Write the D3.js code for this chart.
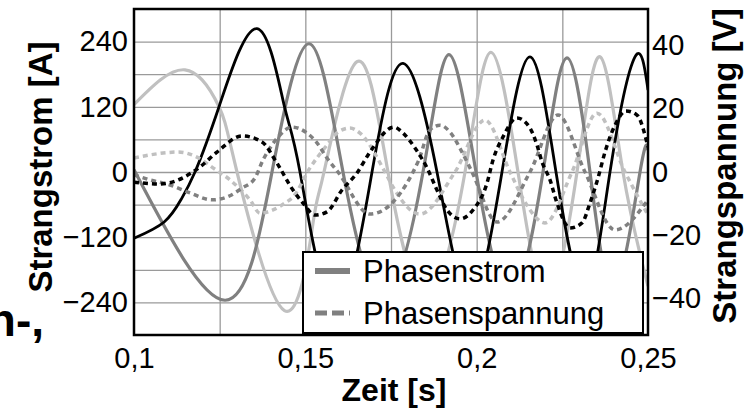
<!DOCTYPE html>
<html>
<head>
<meta charset="utf-8">
<script src="https://cdn.jsdelivr.net/npm/d3@7"></script>
<style>
  body { margin: 0; background: #fff; }
  svg { display: block; font-family: "Liberation Sans", Arial, sans-serif; }
</style>
</head>
<body>
<svg id="chart"></svg>
<script>
// values: [time s, value]
const timeTicks = [0.1, 0.15, 0.2, 0.25];
const timeGrid = [0.125, 0.15, 0.175, 0.2, 0.225];
const currentTicks = [-240, -120, 0, 120, 240];
const currentGrid = [-240, -180, -120, -60, 0, 60, 120, 180, 240];
const voltageTicks = [-40, -20, 0, 20, 40];

// Strangstrom [A]
const currentBlack = [[0.1, -122], [0.1088, -92], [0.1138, -50], [0.1178, 0], [0.12481, 120], [0.13589, 264],
  [0.14377, 124], [0.14844, 0], [0.15866, -250], [0.16946, 0], [0.1785, 200], [0.18842, 0], [0.19805, -230],
  [0.20739, 0], [0.21556, 212], [0.22315, 0], [0.23161, -220], [0.23891, 0], [0.2462, 212], [0.25, 151]];
const currentGray = [[0.1, 4], [0.12656, -236], [0.14027, 0], [0.15107, 236], [0.16099, 0], [0.17267, -230],
  [0.18434, 0], [0.19193, 216], [0.19981, 0], [0.20973, -225], [0.21936, 0], [0.22636, 210], [0.23307, 0],
  [0.24008, -215], [0.24767, 0], [0.25, 40]];
const currentLight = [[0.1, 124], [0.11488, 188], [0.12481, 120], [0.13006, 0], [0.14391, -255], [0.15224, -94],
  [0.15545, 0], [0.16508, 203], [0.17412, 0], [0.18521, -230], [0.1966, 0], [0.20418, 220], [0.21206, 0],
  [0.22052, -225], [0.22928, 0], [0.23599, 212], [0.2427, 0], [0.25, -210]];

// Strangspannung [V]
const voltageBlack = [[0.1, -3.2], [0.10759, -3.8], [0.11926, 1.6], [0.12422, 6.3], [0.13152, 11.4], [0.13735, 9.5],
  [0.14173, 2.8], [0.1464, -5.7], [0.14932, -9.8], [0.15282, -13.6], [0.15632, -12.6], [0.1607, -5.7],
  [0.16508, -0.3], [0.16887, 6.3], [0.17588, 14.2], [0.1785, 12.3], [0.182, 7.6], [0.18551, 1.3], [0.18842, -5.7],
  [0.19134, -12.0], [0.19514, -14.8], [0.19893, -12.0], [0.20302, -3.5], [0.20477, 3.8], [0.20769, 11.1],
  [0.21177, 17.1], [0.21556, 13.9], [0.21761, 8.5], [0.21907, 3.2], [0.2214, -2.5], [0.22344, -9.8],
  [0.22724, -17.7], [0.23074, -16.1], [0.23307, -9.8], [0.23541, -1.9], [0.23745, 6.3], [0.24037, 14.8],
  [0.24358, 19.3], [0.24679, 18.0], [0.25, 7.9]];
const voltageGray = [[0.1, -0.9], [0.10467, -2.5], [0.11051, -4.1], [0.11634, -6.6], [0.12276, -8.8], [0.12714, -7.9],
  [0.13152, -5.1], [0.13531, -1.9], [0.13765, 3.8], [0.13969, 7.6], [0.14261, 11.7], [0.14611, 14.2],
  [0.15049, 12.3], [0.1534, 9.2], [0.15632, 4.4], [0.15953, 0], [0.16887, -13.3], [0.18288, 3.2],
  [0.18638, 13.3], [0.1893, 14.8], [0.19222, 12.6], [0.19572, 6.3], [0.19864, 0], [0.20593, -15.8],
  [0.21556, 0], [0.22374, 18.0], [0.23161, 0], [0.24037, -18.3], [0.25, -8.8]];
const voltageLight = [[0.1, 4.4], [0.10467, 5.4], [0.11284, 6.3], [0.11838, 4.7], [0.12305, 1.3], [0.12801, -2.5],
  [0.13385, -8.8], [0.13677, -13.0], [0.14056, -12.0], [0.14406, -9.8], [0.1464, -7.9], [0.15136, 1.3],
  [0.15632, 8.5], [0.15953, 12.6], [0.16304, 13.9], [0.16595, 12.3], [0.17325, 0], [0.17558, -4.7],
  [0.18346, -13.3], [0.19368, 0], [0.20243, 16.4], [0.20973, 0], [0.2141, -9.5], [0.21994, -16.1],
  [0.22782, 0], [0.23512, 18.6], [0.24329, 0], [0.25, -13.6]];

var width = 745;
var height = 415;
var margin = {top: 9, right: 97, bottom: 80, left: 134};
var plotW = width - margin.left - margin.right;
var plotH = height - margin.top - margin.bottom;

var svg = d3.select("#chart").attr("width", width).attr("height", height);

var x = d3.scaleLinear().domain([0.1, 0.25]).range([0, plotW]);
var yA = d3.scaleLinear().domain([-300, 300]).range([plotH, 0]);
var yV = d3.scaleLinear().domain([-51.5, 51.5]).range([plotH, 0]);

var g = svg.append("g").attr("transform", "translate(" + margin.left + "," + margin.top + ")");

g.append("clipPath").attr("id", "clip")
  .append("rect").attr("width", plotW).attr("height", plotH);

// grid
g.append("g")
  .call(d3.axisLeft(yA).tickValues(currentGrid).tickSize(-plotW).tickFormat(""))
  .call(a => a.select(".domain").remove())
  .selectAll("line").attr("stroke", "#9a9a9a").attr("stroke-width", 1.3);
g.append("g")
  .attr("transform", "translate(0," + plotH + ")")
  .call(d3.axisBottom(x).tickValues(timeGrid).tickSize(-plotH).tickFormat(""))
  .call(a => a.select(".domain").remove())
  .selectAll("line").attr("stroke", "#9a9a9a").attr("stroke-width", 1.3);

var curves = g.append("g").attr("clip-path", "url(#clip)");

var lineA = d3.line().x(d => x(d[0])).y(d => yA(d[1])).curve(d3.curveNatural);
var lineV = d3.line().x(d => x(d[0])).y(d => yV(d[1])).curve(d3.curveMonotoneX);

var currents = [
  {data: currentLight, color: "#c0c0c0", w: 3.2},
  {data: currentGray, color: "#808080", w: 3.2},
  {data: currentBlack, color: "#000", w: 2.8}
];
var voltages = [
  {data: voltageLight, color: "#c0c0c0"},
  {data: voltageGray, color: "#808080"},
  {data: voltageBlack, color: "#000"}
];

curves.selectAll("path.cur")
  .data(currents)
  .enter()
  .append("path")
  .attr("class", "cur")
  .attr("d", d => lineA(d.data))
  .attr("fill", "none")
  .attr("stroke", d => d.color)
  .attr("stroke-width", d => d.w);

curves.selectAll("path.volt")
  .data(voltages)
  .enter()
  .append("path")
  .attr("class", "volt")
  .attr("d", d => lineV(d.data))
  .attr("fill", "none")
  .attr("stroke", d => d.color)
  .attr("stroke-width", 3.5)
  .attr("stroke-dasharray", "5,4");

// frame
g.append("rect")
  .attr("width", plotW).attr("height", plotH)
  .attr("fill", "none").attr("stroke", "#000").attr("stroke-width", 2.5);

// axes labels
var fmt = d => String(d).replace(".", ",");

var left = g.append("g")
  .call(d3.axisLeft(yA).tickValues(currentTicks).tickSize(0).tickPadding(6));
var right = g.append("g").attr("transform", "translate(" + plotW + ",0)")
  .call(d3.axisRight(yV).tickValues(voltageTicks).tickSize(0).tickPadding(4));
var bottom = g.append("g").attr("transform", "translate(0," + plotH + ")")
  .call(d3.axisBottom(x).tickValues(timeTicks).tickSize(0).tickPadding(12).tickFormat(fmt));

[left, right, bottom].forEach(a => {
  a.select(".domain").remove();
  a.selectAll("text").attr("fill", "#000").style("font-size", "29px")
    .style("font-family", "'Liberation Sans', Arial, sans-serif");
});

// titles
svg.append("text")
  .attr("transform", "translate(52,167) rotate(-90)")
  .attr("text-anchor", "middle")
  .style("font-size", "33px").style("font-weight", "bold")
  .text("Strangstrom [A]");
svg.append("text")
  .attr("transform", "translate(736,166) rotate(-90)")
  .attr("text-anchor", "middle")
  .style("font-size", "33px").style("font-weight", "bold")
  .text("Strangspannung [V]");
svg.append("text")
  .attr("x", 394).attr("y", 401)
  .attr("text-anchor", "middle")
  .style("font-size", "32px").style("font-weight", "bold")
  .text("Zeit [s]");

// fragment of the surrounding page text, cut at the left edge as in the source
svg.append("text")
  .attr("x", 44).attr("y", 336)
  .attr("text-anchor", "end")
  .style("font-size", "46px").style("font-weight", "bold")
  .text("n-,");

// legend
var legend = svg.append("g").attr("transform", "translate(303,252)");
legend.append("rect")
  .attr("width", 340).attr("height", 81)
  .attr("fill", "#fff").attr("stroke", "#000").attr("stroke-width", 2);
var items = [
  {label: "Phasenstrom", dash: null, w: 6},
  {label: "Phasenspannung", dash: "12,5", w: 5}
];
var item = legend.selectAll("g.item")
  .data(items)
  .enter()
  .append("g")
  .attr("class", "item")
  .attr("transform", (d, i) => "translate(0," + (19 + i * 42) + ")");
item.append("line")
  .attr("x1", 12).attr("x2", 47)
  .attr("stroke", "#808080")
  .attr("stroke-width", d => d.w)
  .attr("stroke-dasharray", d => d.dash);
item.append("text")
  .attr("x", 60).attr("dy", "0.35em")
  .style("font-size", "31px")
  .text(d => d.label);
</script>
</body>
</html>
